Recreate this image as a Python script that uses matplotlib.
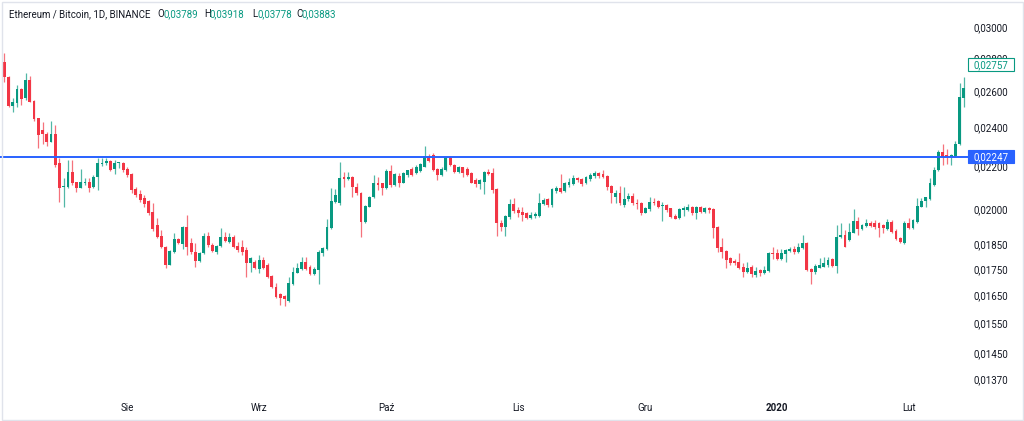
import matplotlib
matplotlib.use("Agg")
import matplotlib.pyplot as plt
from matplotlib.patches import Rectangle
from matplotlib.transforms import IdentityTransform
from matplotlib.ticker import FixedLocator, NullLocator, FuncFormatter
import numpy as np
import pandas as pd

plt.rcParams['font.family'] = ['Roboto', 'DejaVu Sans']

# ---------------- data ----------------
start_date = "2019-07-03"

opens = [
    .02775, .02684, .02516, .02533, .02613, .02561, .02666, .02544, .02450, .02385,
    .02364, .02322, .02364, .02216, .02101, .02101, .02172, .02124, .02096, .02120,
    .02124, .02101, .02148, .02211, .02216, .02226, .02187, .02216, .02216, .02187,
    .02163, .02091, .02068, .02050, .02036, .01987, .01930, .01884, .01838, .01766,
    .01818, .01872, .01851, .01922, .01855, .01818, .01782, .01814, .01884, .01846,
    .01818, .01842, .01880, .01859, .01880, .01842, .01838, .01826, .01774, .01778,
    .01750, .01786, .01766, .01723, .01681, .01655, .01648, .01630, .01693, .01735,
    .01750, .01778, .01758, .01731, .01746, .01814, .01830, .01918, .02032, .02027,
    .02148, .02139, .02148, .02101, .02073, .01943, .02009, .02055, .02120, .02120,
    .02096, .02177, .02110, .02153, .02120, .02158, .02187, .02167, .02177, .02196,
    .02251, .02256, .02187, .02158, .02182, .02241, .02206, .02172, .02196, .02187,
    .02167, .02134, .02115, .02124, .02172, .02167, .02091, .01939, .01922, .01965,
    .02023, .01996, .01987, .01983, .01961, .01969, .01969, .02023, .02045, .02018,
    .02082, .02096, .02082, .02110, .02115, .02143, .02139, .02120, .02139, .02153,
    .02167, .02163, .02153, .02105, .02055, .02073, .02018, .02045, .02059, .02027,
    .02027, .01983, .02000, .02032, .02036, .02014, .02018, .02005, .01969, .01961,
    .01996, .01996, .02009, .01983, .02009, .01987, .02005, .02000, .01922, .01838,
    .01822, .01794, .01782, .01778, .01758, .01738, .01758, .01727, .01746, .01735,
    .01742, .01814, .01814, .01790, .01810, .01822, .01830, .01818, .01834, .01855,
    .01750, .01738, .01754, .01758, .01766, .01790, .01762, .01880, .01888, .01867,
    .01896, .01948, .01913, .01926, .01939, .01939, .01939, .01930, .01913, .01943,
    .01905, .01876, .01855, .01939, .01918, .01943, .02009, .02036, .02045, .02110,
    .02182, .02271, .02256, .02246, .02251, .02312, .02561,
]
highs = [
    .02831, .02690, .02561, .02636, .02619, .02708, .02690, .02550, .02450, .02428,
    .02375, .02434, .02412, .02241, .02143, .02231, .02231, .02124, .02187, .02143,
    .02143, .02158, .02241, .02241, .02241, .02231, .02231, .02221, .02221, .02196,
    .02167, .02101, .02087, .02064, .02041, .02027, .01961, .01909, .01842, .01826,
    .01896, .01876, .01926, .01974, .01876, .01855, .01818, .01896, .01901, .01855,
    .01846, .01918, .01901, .01896, .01888, .01859, .01867, .01838, .01798, .01786,
    .01806, .01798, .01774, .01727, .01696, .01659, .01652, .01719, .01758, .01774,
    .01798, .01798, .01766, .01758, .01826, .01838, .01956, .02096, .02091, .02221,
    .02172, .02172, .02153, .02120, .02078, .02018, .02059, .02158, .02148, .02120,
    .02187, .02206, .02167, .02167, .02172, .02182, .02196, .02206, .02216, .02302,
    .02261, .02266, .02192, .02196, .02246, .02251, .02211, .02201, .02196, .02196,
    .02172, .02143, .02139, .02177, .02187, .02192, .02096, .01952, .01974, .02045,
    .02050, .02009, .02009, .01987, .01987, .01987, .02073, .02050, .02050, .02096,
    .02105, .02163, .02124, .02143, .02158, .02148, .02143, .02153, .02167, .02177,
    .02172, .02182, .02158, .02110, .02087, .02105, .02101, .02073, .02073, .02045,
    .02032, .02009, .02055, .02050, .02041, .02032, .02023, .02005, .01978, .02005,
    .02014, .02023, .02014, .02014, .02014, .02009, .02009, .02005, .01926, .01876,
    .01826, .01798, .01790, .01814, .01774, .01778, .01766, .01758, .01750, .01762,
    .01818, .01838, .01830, .01830, .01830, .01838, .01842, .01855, .01888, .01859,
    .01754, .01770, .01794, .01798, .01798, .01794, .01930, .01939, .01909, .01939,
    .02000, .01965, .01935, .01956, .01948, .01952, .01943, .01935, .01956, .01952,
    .01913, .01880, .01948, .01961, .01956, .02050, .02050, .02055, .02143, .02196,
    .02281, .02312, .02286, .02261, .02327, .02648, .02684,
]
lows = [
    .02654, .02510, .02483, .02510, .02522, .02550, .02539, .02434, .02291, .02312,
    .02302, .02322, .02196, .02032, .02009, .02096, .02110, .02078, .02096, .02110,
    .02078, .02096, .02087, .02201, .02206, .02177, .02163, .02192, .02172, .02148,
    .02073, .02055, .02032, .02009, .01974, .01905, .01876, .01834, .01754, .01766,
    .01814, .01851, .01830, .01806, .01810, .01758, .01778, .01810, .01838, .01818,
    .01810, .01838, .01859, .01855, .01834, .01818, .01806, .01719, .01738, .01750,
    .01735, .01750, .01715, .01678, .01641, .01615, .01612, .01626, .01689, .01735,
    .01746, .01746, .01727, .01727, .01693, .01802, .01826, .01913, .02027, .02018,
    .02101, .02134, .02055, .02064, .01880, .01939, .02009, .02050, .02087, .02064,
    .02091, .02101, .02105, .02101, .02120, .02148, .02153, .02163, .02172, .02196,
    .02221, .02177, .02134, .02153, .02177, .02201, .02167, .02167, .02148, .02153,
    .02120, .02101, .02091, .02068, .02158, .02073, .01884, .01905, .01884, .01956,
    .01983, .01965, .01948, .01956, .01956, .01961, .01965, .02018, .02009, .02009,
    .02073, .02073, .02078, .02101, .02110, .02124, .02105, .02115, .02129, .02143,
    .02143, .02143, .02087, .02027, .02027, .02018, .02009, .02036, .02018, .02000,
    .01974, .01983, .01991, .02018, .02005, .01948, .01987, .01961, .01956, .01956,
    .01969, .01991, .01974, .01956, .01983, .01983, .01983, .01876, .01818, .01794,
    .01754, .01766, .01766, .01750, .01719, .01735, .01719, .01719, .01723, .01731,
    .01738, .01790, .01786, .01786, .01778, .01818, .01810, .01814, .01830, .01742,
    .01693, .01731, .01754, .01758, .01758, .01758, .01735, .01876, .01838, .01863,
    .01896, .01888, .01909, .01922, .01922, .01913, .01880, .01896, .01909, .01896,
    .01867, .01855, .01851, .01913, .01913, .01939, .02009, .02009, .02041, .02105,
    .02177, .02206, .02211, .02206, .02246, .02307, .02510,
]
closes = [
    .02684, .02516, .02539, .02613, .02556, .02666, .02539, .02444, .02359, .02364,
    .02322, .02364, .02206, .02096, .02105, .02172, .02120, .02096, .02124, .02124,
    .02096, .02148, .02216, .02216, .02226, .02182, .02216, .02221, .02182, .02158,
    .02087, .02064, .02041, .02023, .01983, .01913, .01880, .01838, .01766, .01822,
    .01872, .01855, .01922, .01838, .01818, .01782, .01814, .01884, .01846, .01822,
    .01842, .01880, .01863, .01880, .01838, .01826, .01818, .01774, .01794, .01754,
    .01786, .01754, .01719, .01681, .01644, .01641, .01637, .01696, .01738, .01754,
    .01778, .01750, .01731, .01750, .01818, .01834, .01922, .02036, .02064, .02143,
    .02139, .02148, .02101, .02073, .01943, .02014, .02055, .02120, .02110, .02096,
    .02177, .02110, .02163, .02120, .02167, .02182, .02158, .02196, .02211, .02251,
    .02226, .02182, .02158, .02187, .02241, .02206, .02172, .02196, .02167, .02158,
    .02120, .02115, .02134, .02172, .02163, .02087, .01939, .01922, .01969, .02023,
    .01991, .01983, .01974, .01961, .01974, .01978, .02027, .02041, .02018, .02091,
    .02096, .02078, .02120, .02124, .02143, .02134, .02115, .02148, .02158, .02167,
    .02153, .02148, .02101, .02073, .02073, .02027, .02045, .02059, .02027, .02023,
    .01983, .02005, .02032, .02027, .02009, .02018, .01996, .01965, .01956, .02000,
    .02005, .02009, .01983, .02009, .01987, .02005, .01996, .01918, .01834, .01818,
    .01786, .01774, .01774, .01754, .01738, .01754, .01731, .01742, .01735, .01746,
    .01814, .01810, .01790, .01814, .01826, .01830, .01818, .01838, .01855, .01746,
    .01738, .01762, .01766, .01774, .01786, .01762, .01880, .01888, .01838, .01901,
    .01948, .01913, .01930, .01939, .01926, .01922, .01918, .01918, .01943, .01901,
    .01872, .01859, .01939, .01918, .01952, .02014, .02036, .02055, .02120, .02182,
    .02271, .02246, .02246, .02256, .02312, .02567, .02619,
]

price_ticks = [0.03000, 0.02800, 0.02600, 0.02400, 0.02200, 0.02000,
               0.01850, 0.01750, 0.01650, 0.01550, 0.01450, 0.01370]
month_labels = ["Sie", "Wrz", "Paź", "Lis", "Gru", "2020", "Lut"]
hline_price = 0.02247
last_price = 0.02757
title_text = "Ethereum / Bitcoin, 1D, BINANCE"
ohlc_keys = ["O", "H", "L", "C"]
ohlc_vals = ["0,03789", "0,03918", "0,03778", "0,03883"]

# ---------------- style ----------------
UP = "#089981"
DOWN = "#F23645"
BLUE = "#2962FF"
TXT = "#131722"
FS = 7

W, H = 1024, 421
fig = plt.figure(figsize=(W / 100, H / 100), dpi=100)
fig.patch.set_facecolor("white")
plot_right = 968
plot_bottom = 394
ax = fig.add_axes([0, 1 - plot_bottom / H, plot_right / W, plot_bottom / H])
ax.set_facecolor("white")

n = len(closes)
x = np.arange(n)
o = np.array(opens)
hi = np.array(highs)
lo = np.array(lows)
c = np.array(closes)

ax.set_yscale("log")
ax.set_ylim(0.013248, 0.031859)
ax.set_xlim(-1.01, n - 0.04)

up = c >= o
cols = np.where(up, UP, DOWN)
ax.vlines(x, lo, hi, colors=cols, lw=0.9, alpha=0.7, zorder=2)
bottom = np.minimum(o, c)
top = np.maximum(np.maximum(o, c), bottom * 1.0025)
ax.bar(x, top - bottom, bottom=bottom, width=0.68, color=cols, linewidth=0, zorder=3)

ax.axhline(hline_price, color=BLUE, lw=1.4, zorder=4)

fmt = lambda v: f"{v:.5f}".replace(".", ",")
ax.yaxis.set_major_locator(FixedLocator(price_ticks))
ax.yaxis.set_minor_locator(NullLocator())
ax.yaxis.set_major_formatter(FuncFormatter(lambda v, p: fmt(v)))
ax.yaxis.tick_right()
ax.tick_params(axis="y", length=0, pad=3.6, labelsize=FS, labelcolor=TXT)

dates = pd.date_range(start_date, periods=n, freq="D")
month_pos = [i for i, d in enumerate(dates) if d.day == 1]
ax.set_xticks(month_pos)
ax.set_xticklabels(month_labels[:len(month_pos)])
ax.tick_params(axis="x", length=0, pad=6.5, labelsize=FS, labelcolor=TXT)
for lab in ax.get_xticklabels():
    if lab.get_text().isdigit():
        lab.set_fontweight("bold")
for s in ax.spines.values():
    s.set_visible(False)

# price tags on the scale
def y_pix(price):
    return ax.transData.transform((0, price))[1]

yb = y_pix(hline_price)
fig.add_artist(Rectangle((plot_right, yb - 6.5), 46, 13, transform=IdentityTransform(),
                         facecolor=BLUE, edgecolor=BLUE, lw=0.8, zorder=5))
fig.text(plot_right + 23, yb, fmt(hline_price), transform=IdentityTransform(),
         ha="center", va="center", color="white", fontsize=FS, zorder=6)

yg = y_pix(last_price)
fig.add_artist(Rectangle((plot_right, yg - 6.5), 46, 13, transform=IdentityTransform(),
                         facecolor="white", edgecolor=UP, lw=0.8, zorder=5))
fig.text(plot_right + 23, yg, fmt(last_price), transform=IdentityTransform(),
         ha="center", va="center", color=UP, fontsize=FS, zorder=6)

# header legend
hy = H - 14
fig.text(9, hy, title_text, transform=IdentityTransform(), fontsize=FS,
         color=TXT, va="center", zorder=6)
key_x = [157, 204, 252, 296]
val_x = [163, 210, 257, 301]
for k, v, kx, vx in zip(ohlc_keys, ohlc_vals, key_x, val_x):
    fig.text(kx, hy, k, transform=IdentityTransform(), fontsize=FS, color=TXT,
             va="center", zorder=6)
    fig.text(vx, hy, v, transform=IdentityTransform(), fontsize=FS, color=UP,
             va="center", zorder=6)

# outer frame
fig.add_artist(Rectangle((1.5, 1.5), W - 3, H - 3, transform=IdentityTransform(),
                         facecolor="none", edgecolor="#e0e3eb", lw=1, zorder=10))

fig.savefig("out.png", dpi=100, facecolor="white")
